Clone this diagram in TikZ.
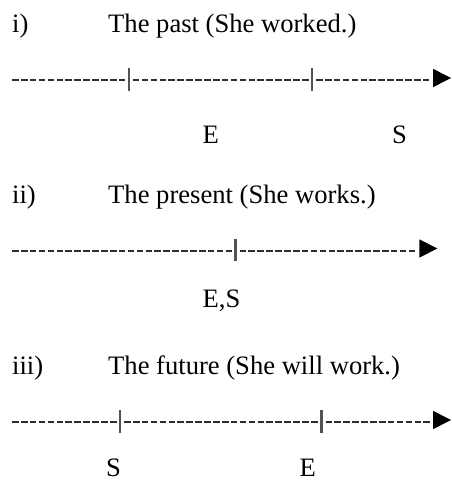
\documentclass[tikz,border=0pt]{standalone}
\usepackage{fontspec}
\setmainfont{Liberation Serif}
\usepackage{tikz}

\tikzset{
  txt/.style={anchor=base west,inner sep=0pt,font=\fontsize{26.6}{32}\selectfont},
  dashline/.style={draw=black!82,line width=2pt,dash pattern=on 6.6pt off 2.3pt},
  tickbar/.style={draw=black!68,line width=2.2pt},
}

\begin{document}
\begin{tikzpicture}[x=1pt,y=-1pt]
\useasboundingbox (0,0) rectangle (452,490);

% Row i: the past
\node[txt] (num1) at (12,32) {i)};
\node[txt] (title1) at (108,32) {The past (She worked.)};
\coordinate (a1) at (12,80);
\coordinate (e1) at (128.8,80);
\coordinate (s1) at (312,80);
\coordinate (b1) at (429.5,80);
\coordinate (tip1) at (451,78);
\draw[dashline] (a1) -- ([xshift=-2.5pt]e1);
\draw[dashline] ([xshift=4pt]e1) -- ([xshift=-2.5pt]s1);
\draw[dashline] ([xshift=4pt]s1) -- (b1);
\foreach \t in {e1,s1}
    \draw[tickbar] (\t) ++(0,-11.7) -- ++(0,22.4);
\fill (tip1) -- ++(-18,-9.2) -- ++(0,18.4) -- cycle;
\node[txt] (lblE1) at (202.5,143) {E};
\node[txt] (lblS1) at (392,143) {S};

% Row ii: the present
\node[txt] (num2) at (12,203) {ii)};
\node[txt] (title2) at (108,203) {The present (She works.)};
\coordinate (a2) at (12,250.5);
\coordinate (es2) at (235.5,250.5);
\coordinate (b2) at (416,250.5);
\coordinate (tip2) at (437.3,248.5);
\draw[dashline] (a2) -- ([xshift=-2.5pt]es2);
\draw[dashline] ([xshift=4pt]es2) -- (b2);
\draw[tickbar] (es2) ++(0,-11.7) -- ++(0,22.4);
\fill (tip2) -- ++(-18,-9.2) -- ++(0,18.4) -- cycle;
\node[txt] (lblES2) at (202.5,307) {E,S};

% Row iii: the future
\node[txt] (num3) at (12,374.5) {iii)};
\node[txt] (title3) at (108,374.5) {The future (She will work.)};
\coordinate (a3) at (12,422);
\coordinate (s3) at (120,422);
\coordinate (e3) at (321.5,422);
\coordinate (b3) at (429.5,422);
\coordinate (tip3) at (451,420);
\draw[dashline] (a3) -- ([xshift=-2.5pt]s3);
\draw[dashline] ([xshift=4pt]s3) -- ([xshift=-2.5pt]e3);
\draw[dashline] ([xshift=4pt]e3) -- (b3);
\foreach \t in {s3,e3}
    \draw[tickbar] (\t) ++(0,-11.7) -- ++(0,22.4);
\fill (tip3) -- ++(-18,-9.2) -- ++(0,18.4) -- cycle;
\node[txt] (lblS3) at (106,476.5) {S};
\node[txt] (lblE3) at (299.5,476.5) {E};
\end{tikzpicture}
\end{document}
